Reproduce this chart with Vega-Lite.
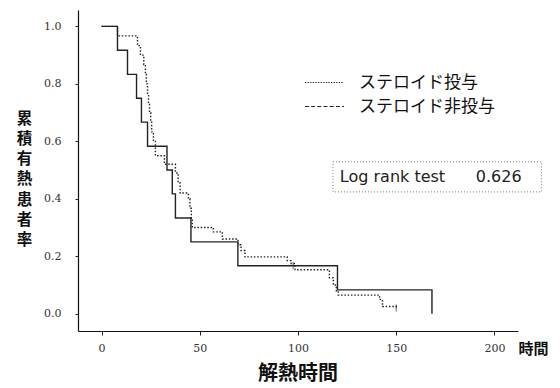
{
  "$schema": "https://vega.github.io/schema/vega-lite/v6.json",
  "width": 440,
  "height": 321,
  "autosize": {"type": "none"},
  "padding": {"left": 78, "top": 10, "right": 42, "bottom": 57},
  "background": "white",
  "config": {"view": {"stroke": null}, "font": "Noto Sans CJK JP"},
  "title": {"text": "解熱時間", "orient": "bottom", "anchor": "middle", "fontSize": 20, "fontWeight": "bold", "font": "Noto Sans CJK JP", "offset": 8, "color": "#111"},
  "datasets": {
    "km": [
      {"group": "ステロイド非投与", "t": 0, "s": 1.0},
      {"group": "ステロイド非投与", "t": 8.1, "s": 0.917},
      {"group": "ステロイド非投与", "t": 13.2, "s": 0.833},
      {"group": "ステロイド非投与", "t": 17.8, "s": 0.75},
      {"group": "ステロイド非投与", "t": 20.3, "s": 0.667},
      {"group": "ステロイド非投与", "t": 23.4, "s": 0.583},
      {"group": "ステロイド非投与", "t": 33.3, "s": 0.5},
      {"group": "ステロイド非投与", "t": 36.0, "s": 0.417},
      {"group": "ステロイド非投与", "t": 37.6, "s": 0.333},
      {"group": "ステロイド非投与", "t": 45.5, "s": 0.25},
      {"group": "ステロイド非投与", "t": 69.4, "s": 0.167},
      {"group": "ステロイド非投与", "t": 120.1, "s": 0.083},
      {"group": "ステロイド非投与", "t": 168.2, "s": 0.0},
      {"group": "ステロイド投与", "t": 0, "s": 1.0},
      {"group": "ステロイド投与", "t": 8.1, "s": 0.967},
      {"group": "ステロイド投与", "t": 18.3, "s": 0.933},
      {"group": "ステロイド投与", "t": 19.8, "s": 0.9},
      {"group": "ステロイド投与", "t": 21.5, "s": 0.867},
      {"group": "ステロイド投与", "t": 22.3, "s": 0.833},
      {"group": "ステロイド投与", "t": 22.8, "s": 0.8},
      {"group": "ステロイド投与", "t": 23.4, "s": 0.767},
      {"group": "ステロイド投与", "t": 23.9, "s": 0.733},
      {"group": "ステロイド投与", "t": 24.4, "s": 0.7},
      {"group": "ステロイド投与", "t": 25.0, "s": 0.667},
      {"group": "ステロイド投与", "t": 25.5, "s": 0.633},
      {"group": "ステロイド投与", "t": 26.4, "s": 0.6},
      {"group": "ステロイド投与", "t": 27.4, "s": 0.55},
      {"group": "ステロイド投与", "t": 32.0, "s": 0.52},
      {"group": "ステロイド投与", "t": 37.6, "s": 0.49},
      {"group": "ステロイド投与", "t": 39.0, "s": 0.455},
      {"group": "ステロイド投与", "t": 40.0, "s": 0.42},
      {"group": "ステロイド投与", "t": 44.2, "s": 0.4},
      {"group": "ステロイド投与", "t": 45.0, "s": 0.367},
      {"group": "ステロイド投与", "t": 45.7, "s": 0.333},
      {"group": "ステロイド投与", "t": 46.2, "s": 0.3},
      {"group": "ステロイド投与", "t": 56.9, "s": 0.285},
      {"group": "ステロイド投与", "t": 61.5, "s": 0.26},
      {"group": "ステロイド投与", "t": 69.5, "s": 0.24},
      {"group": "ステロイド投与", "t": 71.0, "s": 0.22},
      {"group": "ステロイド投与", "t": 73.0, "s": 0.198},
      {"group": "ステロイド投与", "t": 94.5, "s": 0.185},
      {"group": "ステロイド投与", "t": 96.5, "s": 0.175},
      {"group": "ステロイド投与", "t": 98.5, "s": 0.153},
      {"group": "ステロイド投与", "t": 116.0, "s": 0.125},
      {"group": "ステロイド投与", "t": 118.0, "s": 0.1},
      {"group": "ステロイド投与", "t": 119.5, "s": 0.08},
      {"group": "ステロイド投与", "t": 120.5, "s": 0.065},
      {"group": "ステロイド投与", "t": 141.5, "s": 0.05},
      {"group": "ステロイド投与", "t": 143.0, "s": 0.025},
      {"group": "ステロイド投与", "t": 150.0, "s": 0.02}
    ],
    "censor": [
      {"group": "ステロイド非投与", "t": 97.5, "s": 0.167},
      {"group": "ステロイド投与", "t": 150.0, "s": 0.02}
    ],
    "stat": [{"label": "Log rank test", "p": "0.626"}]
  },
  "layer": [
    {
      "data": {"name": "km"},
      "mark": {"type": "line", "interpolate": "step-after", "strokeWidth": 1.4, "color": "#222"},
      "encoding": {
        "x": {
          "field": "t", "type": "quantitative",
          "scale": {"domain": [-12, 212], "nice": false, "zero": false},
          "axis": {
            "values": [0, 50, 100, 150, 200], "format": "d", "grid": false,
            "tickSize": 4, "tickColor": "#222", "domainColor": "#111", "domainWidth": 1.2,
            "labelFont": "DejaVu Serif", "labelFontSize": 11, "labelColor": "#333", "labelPadding": 7,
            "title": "時間", "titleX": 455, "titleY": 17, "titleAlign": "center", "titleBaseline": "middle",
            "titleFontSize": 15, "titleFontWeight": "bold", "titleFont": "Noto Sans CJK JP", "titleColor": "#111"
          }
        },
        "y": {
          "field": "s", "type": "quantitative",
          "scale": {"domain": [-0.06, 1.057], "nice": false, "zero": false},
          "axis": {
            "values": [0, 0.2, 0.4, 0.6, 0.8, 1.0], "format": ".1f", "grid": false,
            "tickSize": 3, "tickColor": "#222", "domainColor": "#111", "domainWidth": 1.2,
            "labelFont": "DejaVu Serif", "labelFontSize": 11, "labelColor": "#333", "labelPadding": 14,
            "title": ["累", "積", "有", "熱", "患", "者", "率"], "titleAngle": 0,
            "titleX": -54, "titleY": 101, "titleAlign": "center", "titleBaseline": "top",
            "titleLineHeight": 20.3, "titleFontSize": 15.5, "titleFontWeight": "bold",
            "titleFont": "Noto Sans CJK JP", "titleColor": "#111"
          }
        },
        "strokeDash": {
          "field": "group", "type": "nominal",
          "scale": {"domain": ["ステロイド非投与", "ステロイド投与"], "range": [[1, 0], [1.5, 1.8]]},
          "legend": null
        }
      }
    },
    {
      "data": {"name": "censor"},
      "mark": {"type": "tick", "orient": "vertical", "size": 7, "thickness": 1, "color": "#222"},
      "encoding": {
        "x": {"field": "t", "type": "quantitative"},
        "y": {"field": "s", "type": "quantitative"}
      }
    },
    {
      "data": {"name": "censor"},
      "mark": {"type": "point", "filled": false, "opacity": 0, "color": "#222", "strokeWidth": 1.2},
      "encoding": {
        "x": {"field": "t", "type": "quantitative"},
        "y": {"field": "s", "type": "quantitative"},
        "shape": {
          "field": "group", "type": "nominal",
          "scale": {
            "domain": ["ステロイド投与", "ステロイド非投与"],
            "range": [
              "M-3,0h0.2M-2.6,0h0.2M-2.2,0h0.2M-1.8,0h0.2M-1.4,0h0.2M-1,0h0.2M-0.6,0h0.2M-0.2,0h0.2M0.2,0h0.2M0.6,0h0.2M1,0h0.2M1.4,0h0.2M1.8,0h0.2M2.2,0h0.2M2.6,0h0.2",
              "M-3,0h0.6M-2.05,0h0.6M-1.1,0h0.6M-0.15,0h0.6M0.8,0h0.6M1.75,0h0.6M2.7,0h0.3"
            ]
          },
          "legend": {
            "orient": "none", "legendX": 238, "legendY": 64, "title": null,
            "symbolSize": 169, "symbolStrokeWidth": 1.2, "symbolStrokeColor": "#222", "symbolFillColor": "transparent", "symbolOpacity": 1,
            "labelFont": "Noto Sans CJK JP", "labelFontSize": 17, "labelColor": "#111", "labelOffset": 26,
            "rowPadding": 6, "padding": 0, "labelLimit": 300
          }
        }
      }
    },
    {
      "data": {"name": "stat"},
      "mark": {"type": "rect", "fill": null, "stroke": "#777", "strokeWidth": 1, "strokeDash": [1, 2], "clip": false},
      "encoding": {
        "x": {"datum": 117.8}, "x2": {"datum": 223.9},
        "y": {"datum": 0.424}, "y2": {"datum": 0.529}
      }
    },
    {
      "data": {"name": "stat"},
      "mark": {"type": "text", "align": "left", "baseline": "middle", "font": "DejaVu Sans", "fontSize": 16, "color": "#222"},
      "encoding": {
        "x": {"datum": 121.3}, "y": {"datum": 0.477},
        "text": {"field": "label"}
      }
    },
    {
      "data": {"name": "stat"},
      "mark": {"type": "text", "align": "left", "baseline": "middle", "font": "DejaVu Sans", "fontSize": 16, "color": "#222"},
      "encoding": {
        "x": {"datum": 190.5}, "y": {"datum": 0.477},
        "text": {"field": "p"}
      }
    }
  ]
}
